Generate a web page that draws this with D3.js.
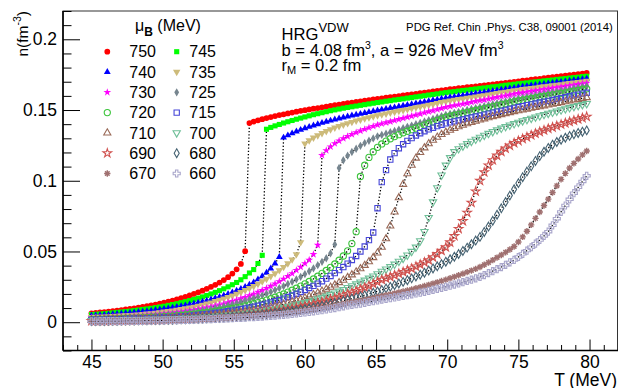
<!DOCTYPE html>
<html>
<head>
<meta charset="utf-8">
<script src="https://cdn.jsdelivr.net/npm/d3@7"></script>
<style>
  body { margin: 0; background: #fff; }
  svg { display: block; }
  text { font-family: "Liberation Sans", Arial, Helvetica, sans-serif; fill: #000; }
</style>
</head>
<body>
<svg id="chart" width="618" height="388"></svg>
<script>
// Temperature grid (MeV)
const temps = [
45,45.3,45.6,45.9,46.2,46.5,46.8,47.1,47.4,47.7,
48,48.3,48.6,48.9,49.2,49.5,49.8,50.1,50.4,50.7,
51,51.3,51.6,51.9,52.2,52.5,52.8,53.1,53.4,53.7,
54,54.3,54.6,54.9,55.2,55.5,55.8,56.1,56.4,56.7,
57,57.3,57.6,57.9,58.2,58.5,58.8,59.1,59.4,59.7,
60,60.3,60.6,60.9,61.2,61.5,61.8,62.1,62.4,62.7,
63,63.3,63.6,63.9,64.2,64.5,64.8,65.1,65.4,65.7,
66,66.3,66.6,66.9,67.2,67.5,67.8,68.1,68.4,68.7,
69,69.3,69.6,69.9,70.2,70.5,70.8,71.1,71.4,71.7,
72,72.3,72.6,72.9,73.2,73.5,73.8,74.1,74.4,74.7,
75,75.3,75.6,75.9,76.2,76.5,76.8,77.1,77.4,77.7,
78,78.3,78.6,78.9,79.2,79.5,79.8];

// Baryon density n (fm^-3) for each baryon chemical potential
const n750 = [
.0063,.0066,.0069,.0072,.0075,.0078,.0082,.0086,.0090,.0094,
.0098,.0103,.0108,.0113,.0119,.0125,.0131,.0138,.0145,.0153,
.0161,.0170,.0179,.0189,.0200,.0211,.0223,.0236,.0250,.0264,
.0280,.0298,.0318,.0344,.0374,.0412,.0502,.1408,.1418,.1427,
.1435,.1443,.1450,.1457,.1464,.1470,.1476,.1482,.1488,.1494,
.1499,.1504,.1509,.1514,.1519,.1524,.1529,.1534,.1539,.1543,
.1548,.1552,.1557,.1561,.1566,.1570,.1575,.1579,.1583,.1587,
.1591,.1595,.1599,.1603,.1607,.1611,.1615,.1619,.1623,.1627,
.1631,.1635,.1639,.1643,.1647,.1650,.1654,.1657,.1661,.1664,
.1668,.1671,.1675,.1678,.1682,.1685,.1689,.1692,.1696,.1699,
.1703,.1707,.1710,.1714,.1718,.1721,.1725,.1729,.1732,.1736,
.1740,.1743,.1747,.1751,.1754,.1758,.1762];

const n745 = [
.0054,.0056,.0058,.0060,.0063,.0066,.0069,.0072,.0075,.0078,
.0082,.0086,.0090,.0094,.0098,.0103,.0108,.0113,.0119,.0125,
.0131,.0138,.0145,.0153,.0161,.0170,.0179,.0189,.0200,.0211,
.0223,.0236,.0250,.0265,.0281,.0300,.0322,.0348,.0372,.0415,
.0473,.1364,.1377,.1388,.1398,.1408,.1417,.1426,.1435,.1443,
.1451,.1459,.1467,.1474,.1481,.1488,.1495,.1501,.1507,.1513,
.1518,.1523,.1528,.1533,.1538,.1543,.1548,.1553,.1557,.1562,
.1566,.1571,.1575,.1579,.1584,.1588,.1593,.1597,.1601,.1606,
.1610,.1614,.1619,.1623,.1627,.1630,.1634,.1638,.1641,.1645,
.1649,.1653,.1656,.1660,.1664,.1667,.1671,.1675,.1678,.1682,
.1686,.1689,.1692,.1696,.1699,.1702,.1706,.1709,.1712,.1716,
.1719,.1722,.1726,.1729,.1732,.1736,.1739];

const n740 = [
.0046,.0048,.0050,.0052,.0054,.0056,.0058,.0060,.0063,.0066,
.0069,.0072,.0075,.0078,.0082,.0086,.0090,.0094,.0098,.0103,
.0108,.0113,.0119,.0125,.0131,.0138,.0145,.0153,.0161,.0170,
.0179,.0189,.0200,.0211,.0223,.0236,.0250,.0265,.0282,.0303,
.0325,.0350,.0380,.0415,.0461,.1305,.1321,.1335,.1348,.1360,
.1371,.1381,.1391,.1400,.1409,.1417,.1425,.1433,.1440,.1447,
.1454,.1461,.1467,.1473,.1479,.1485,.1491,.1497,.1503,.1508,
.1514,.1519,.1525,.1530,.1536,.1541,.1547,.1552,.1558,.1563,
.1569,.1574,.1580,.1585,.1590,.1594,.1599,.1603,.1608,.1612,
.1617,.1621,.1626,.1630,.1635,.1639,.1644,.1648,.1653,.1657,
.1662,.1666,.1669,.1673,.1677,.1681,.1684,.1688,.1692,.1696,
.1699,.1703,.1707,.1711,.1714,.1718,.1722];

const n735 = [
.0036,.0037,.0038,.0039,.0040,.0042,.0044,.0046,.0048,.0050,
.0052,.0054,.0057,.0060,.0063,.0066,.0070,.0074,.0078,.0082,
.0087,.0092,.0097,.0103,.0109,.0116,.0123,.0131,.0139,.0148,
.0157,.0167,.0177,.0188,.0200,.0213,.0226,.0240,.0255,.0271,
.0288,.0306,.0325,.0345,.0367,.0390,.0415,.0443,.0480,.0565,
.1263,.1285,.1304,.1321,.1336,.1350,.1363,.1375,.1386,.1396,
.1406,.1415,.1424,.1432,.1440,.1448,.1455,.1462,.1468,.1474,
.1481,.1487,.1493,.1499,.1505,.1512,.1518,.1524,.1530,.1536,
.1542,.1549,.1555,.1561,.1566,.1571,.1576,.1580,.1585,.1590,
.1595,.1600,.1604,.1609,.1614,.1619,.1624,.1628,.1633,.1638,
.1643,.1647,.1651,.1655,.1659,.1663,.1667,.1670,.1674,.1678,
.1682,.1686,.1690,.1694,.1697,.1701,.1705];

const n730 = [
.0032,.0033,.0034,.0035,.0036,.0037,.0038,.0039,.0040,.0042,
.0044,.0046,.0048,.0050,.0052,.0054,.0057,.0060,.0063,.0066,
.0070,.0074,.0078,.0082,.0087,.0092,.0097,.0103,.0109,.0116,
.0123,.0131,.0139,.0148,.0157,.0167,.0177,.0188,.0200,.0213,
.0226,.0240,.0255,.0271,.0288,.0306,.0325,.0345,.0367,.0390,
.0415,.0440,.0480,.0545,.1180,.1214,.1241,.1263,.1282,.1299,
.1314,.1328,.1341,.1353,.1364,.1375,.1385,.1395,.1403,.1411,
.1418,.1426,.1434,.1442,.1450,.1457,.1465,.1473,.1481,.1489,
.1496,.1504,.1512,.1520,.1526,.1532,.1537,.1543,.1549,.1555,
.1561,.1567,.1572,.1578,.1584,.1590,.1596,.1601,.1607,.1613,
.1619,.1623,.1628,.1632,.1637,.1641,.1646,.1650,.1655,.1659,
.1664,.1668,.1673,.1677,.1682,.1686,.1691];

const n725 = [
.0027,.0028,.0029,.0030,.0031,.0032,.0033,.0034,.0035,.0036,
.0038,.0039,.0041,.0043,.0045,.0047,.0049,.0052,.0054,.0057,
.0060,.0063,.0066,.0070,.0074,.0078,.0083,.0088,.0093,.0099,
.0105,.0111,.0118,.0125,.0133,.0141,.0150,.0159,.0169,.0179,
.0190,.0202,.0214,.0227,.0241,.0255,.0270,.0286,.0303,.0321,
.0340,.0360,.0381,.0403,.0427,.0452,.0487,.0550,.1090,.1145,
.1177,.1203,.1226,.1247,.1266,.1283,.1299,.1314,.1324,.1333,
.1343,.1352,.1362,.1371,.1381,.1390,.1400,.1409,.1419,.1428,
.1438,.1447,.1457,.1466,.1473,.1480,.1486,.1493,.1500,.1507,
.1514,.1521,.1527,.1534,.1541,.1548,.1555,.1561,.1568,.1575,
.1582,.1587,.1593,.1598,.1603,.1609,.1614,.1620,.1625,.1630,
.1636,.1641,.1646,.1652,.1657,.1663,.1668];

const n720 = [
.0019,.0020,.0021,.0022,.0023,.0024,.0025,.0026,.0027,.0028,
.0029,.0031,.0032,.0033,.0035,.0036,.0038,.0040,.0041,.0043,
.0045,.0048,.0051,.0054,.0057,.0060,.0064,.0068,.0072,.0077,
.0081,.0086,.0092,.0097,.0103,.0109,.0116,.0123,.0131,.0139,
.0147,.0156,.0166,.0177,.0188,.0200,.0213,.0226,.0240,.0255,
.0271,.0288,.0306,.0325,.0345,.0366,.0388,.0412,.0438,.0468,
.0505,.0556,.0640,.1030,.1110,.1165,.1205,.1236,.1260,.1280,
.1297,.1312,.1326,.1339,.1350,.1361,.1372,.1383,.1394,.1405,
.1416,.1427,.1438,.1449,.1456,.1463,.1469,.1476,.1483,.1490,
.1497,.1503,.1510,.1517,.1524,.1531,.1538,.1544,.1551,.1558,
.1565,.1570,.1576,.1581,.1586,.1592,.1597,.1602,.1607,.1613,
.1618,.1623,.1629,.1634,.1639,.1645,.1650];

const n715 = [
.0016,.0017,.0017,.0018,.0019,.0020,.0021,.0022,.0023,.0024,
.0025,.0026,.0027,.0028,.0029,.0031,.0032,.0033,.0035,.0036,
.0038,.0040,.0043,.0045,.0048,.0051,.0054,.0057,.0061,.0065,
.0068,.0073,.0077,.0082,.0087,.0092,.0097,.0103,.0109,.0116,
.0123,.0131,.0139,.0148,.0157,.0167,.0178,.0189,.0201,.0214,
.0228,.0242,.0257,.0273,.0290,.0308,.0327,.0347,.0368,.0390,
.0414,.0440,.0468,.0500,.0535,.0580,.0634,.0806,.0990,.1075,
.1150,.1195,.1230,.1258,.1282,.1302,.1320,.1336,.1350,.1363,
.1375,.1386,.1396,.1406,.1413,.1420,.1426,.1433,.1440,.1447,
.1454,.1460,.1467,.1474,.1481,.1488,.1494,.1501,.1508,.1515,
.1521,.1527,.1534,.1540,.1546,.1553,.1559,.1565,.1571,.1578,
.1584,.1590,.1597,.1603,.1609,.1616,.1622];

const n710 = [
.0013,.0014,.0014,.0015,.0015,.0016,.0017,.0018,.0018,.0019,
.0020,.0021,.0022,.0023,.0024,.0025,.0026,.0027,.0028,.0030,
.0031,.0033,.0035,.0037,.0039,.0041,.0043,.0046,.0048,.0051,
.0054,.0057,.0060,.0064,.0067,.0071,.0075,.0080,.0084,.0089,
.0094,.0100,.0106,.0113,.0120,.0127,.0135,.0144,.0153,.0162,
.0172,.0183,.0195,.0207,.0220,.0233,.0248,.0263,.0280,.0297,
.0316,.0335,.0356,.0378,.0402,.0428,.0457,.0490,.0530,.0590,
.0680,.0780,.0880,.0975,.1050,.1110,.1160,.1200,.1233,.1262,
.1287,.1308,.1327,.1343,.1357,.1370,.1382,.1393,.1403,.1412,
.1421,.1430,.1438,.1446,.1454,.1461,.1468,.1475,.1482,.1489,
.1495,.1501,.1507,.1513,.1518,.1524,.1530,.1536,.1542,.1547,
.1553,.1559,.1565,.1571,.1576,.1582,.1588];

const n700 = [
.0011,.0011,.0012,.0013,.0013,.0014,.0014,.0015,.0016,.0016,
.0017,.0018,.0018,.0019,.0020,.0021,.0022,.0023,.0024,.0025,
.0026,.0027,.0029,.0031,.0032,.0034,.0036,.0038,.0040,.0043,
.0045,.0048,.0050,.0053,.0056,.0059,.0063,.0066,.0070,.0074,
.0078,.0083,.0087,.0093,.0098,.0104,.0110,.0116,.0123,.0131,
.0138,.0146,.0155,.0164,.0174,.0184,.0195,.0206,.0219,.0231,
.0245,.0257,.0270,.0283,.0297,.0311,.0326,.0342,.0359,.0375,
.0392,.0410,.0430,.0451,.0474,.0500,.0530,.0575,.0640,.0740,
.0850,.0950,.1040,.1110,.1163,.1205,.1226,.1245,.1262,.1278,
.1293,.1307,.1321,.1334,.1347,.1359,.1371,.1383,.1393,.1403,
.1413,.1423,.1432,.1441,.1450,.1459,.1468,.1476,.1484,.1492,
.1500,.1508,.1516,.1524,.1531,.1538,.1545];

const n690 = [
.0009,.0009,.0010,.0010,.0011,.0011,.0012,.0012,.0013,.0013,
.0014,.0015,.0015,.0016,.0017,.0018,.0018,.0019,.0020,.0021,
.0022,.0023,.0025,.0026,.0027,.0029,.0031,.0032,.0034,.0036,
.0038,.0040,.0043,.0045,.0047,.0050,.0053,.0056,.0059,.0063,
.0066,.0070,.0074,.0078,.0082,.0087,.0092,.0097,.0103,.0109,
.0115,.0121,.0128,.0136,.0143,.0152,.0160,.0169,.0179,.0189,
.0200,.0210,.0221,.0233,.0245,.0258,.0271,.0285,.0300,.0310,
.0321,.0332,.0343,.0355,.0367,.0380,.0394,.0408,.0423,.0438,
.0459,.0482,.0505,.0530,.0565,.0610,.0660,.0715,.0775,.0845,
.0925,.1000,.1060,.1108,.1146,.1178,.1205,.1228,.1249,.1267,
.1282,.1296,.1309,.1322,.1334,.1346,.1357,.1368,.1378,.1388,
.1398,.1408,.1417,.1426,.1435,.1444,.1453];

const n680 = [
.0008,.0008,.0009,.0009,.0010,.0010,.0010,.0011,.0011,.0012,
.0012,.0013,.0013,.0014,.0015,.0015,.0016,.0017,.0017,.0018,
.0019,.0020,.0021,.0022,.0024,.0025,.0026,.0028,.0029,.0031,
.0032,.0034,.0036,.0038,.0040,.0042,.0044,.0047,.0049,.0052,
.0055,.0058,.0061,.0065,.0068,.0072,.0076,.0080,.0084,.0089,
.0094,.0099,.0104,.0110,.0116,.0122,.0129,.0136,.0144,.0152,
.0160,.0167,.0175,.0183,.0191,.0200,.0209,.0218,.0228,.0239,
.0250,.0262,.0274,.0285,.0297,.0310,.0323,.0336,.0350,.0365,
.0380,.0395,.0411,.0428,.0445,.0463,.0482,.0504,.0527,.0551,
.0577,.0603,.0638,.0676,.0717,.0760,.0805,.0850,.0895,.0940,
.0983,.1025,.1065,.1102,.1140,.1174,.1205,.1232,.1255,.1274,
.1290,.1304,.1317,.1328,.1338,.1347,.1356];

const n670 = [
.0007,.0007,.0008,.0008,.0008,.0009,.0009,.0010,.0010,.0010,
.0011,.0011,.0012,.0012,.0013,.0014,.0014,.0015,.0016,.0016,
.0017,.0018,.0019,.0020,.0021,.0022,.0023,.0024,.0026,.0027,
.0028,.0030,.0031,.0033,.0035,.0036,.0038,.0040,.0042,.0045,
.0047,.0050,.0052,.0055,.0058,.0061,.0065,.0068,.0072,.0076,
.0080,.0085,.0089,.0094,.0099,.0105,.0111,.0117,.0123,.0130,
.0137,.0142,.0148,.0153,.0159,.0165,.0171,.0178,.0185,.0191,
.0197,.0204,.0211,.0218,.0225,.0232,.0240,.0248,.0256,.0264,
.0273,.0282,.0292,.0301,.0311,.0321,.0332,.0343,.0354,.0365,
.0377,.0390,.0406,.0422,.0439,.0457,.0475,.0494,.0514,.0535,
.0567,.0603,.0643,.0688,.0734,.0779,.0825,.0870,.0917,.0964,
.1010,.1052,.1090,.1123,.1154,.1183,.1210];

const n660 = [
.0006,.0006,.0007,.0007,.0007,.0008,.0008,.0008,.0009,.0009,
.0009,.0010,.0010,.0011,.0011,.0012,.0012,.0013,.0014,.0014,
.0015,.0016,.0017,.0017,.0018,.0019,.0020,.0021,.0022,.0023,
.0025,.0026,.0027,.0028,.0030,.0031,.0033,.0035,.0036,.0038,
.0040,.0042,.0045,.0047,.0050,.0052,.0055,.0058,.0062,.0065,
.0069,.0073,.0077,.0081,.0085,.0090,.0095,.0100,.0106,.0112,
.0118,.0123,.0127,.0132,.0137,.0143,.0148,.0154,.0160,.0165,
.0170,.0175,.0180,.0186,.0191,.0197,.0203,.0209,.0215,.0222,
.0229,.0236,.0243,.0250,.0258,.0266,.0274,.0283,.0292,.0301,
.0310,.0320,.0333,.0347,.0361,.0375,.0390,.0406,.0423,.0440,
.0461,.0483,.0506,.0530,.0555,.0581,.0610,.0640,.0685,.0732,
.0780,.0825,.0869,.0912,.0954,.0995,.1035];

const muLabels = ["750","745","740","735","730","725","720","715","710","700","690","680","670","660"];
const xTickValues = [45, 50, 55, 60, 65, 70, 75, 80];
const yTickValues = [0, 0.05, 0.1, 0.15, 0.2];

const seriesValues = [n750, n745, n740, n735, n730, n725, n720, n715, n710, n700, n690, n680, n670, n660];
seriesValues.forEach((s, i) => {
  if (s.length !== temps.length) throw new Error("series " + muLabels[i] + " has " + s.length + " points");
});

// Marker appearance for each series (ROOT-like marker styles)
const markerStyles = [
  { color: "#ff0000", shape: "circle",       filled: true },
  { color: "#00ff00", shape: "square",       filled: true },
  { color: "#0000ff", shape: "triangle",     filled: true },
  { color: "#cdbb7a", shape: "triangleDown", filled: true },
  { color: "#ff00ff", shape: "star",         filled: true },
  { color: "#76858f", shape: "diamond",      filled: true },
  { color: "#3cc43c", shape: "circle",       filled: false },
  { color: "#4646d8", shape: "square",       filled: false },
  { color: "#9a6a58", shape: "triangle",     filled: false },
  { color: "#6fbf98", shape: "triangleDown", filled: false },
  { color: "#d0524f", shape: "star",         filled: false },
  { color: "#456272", shape: "diamond",      filled: false },
  { color: "#a07070", shape: "asterisk",     filled: false },
  { color: "#a9a6cb", shape: "cross",        filled: false }
];

const asteriskSymbol = {
  draw(ctx, size) {
    const r = Math.sqrt(size) * 0.6;
    for (let a = 0; a < 4; a++) {
      const ang = a * Math.PI / 4;
      const dx = r * Math.cos(ang), dy = r * Math.sin(ang);
      ctx.moveTo(-dx, -dy);
      ctx.lineTo(dx, dy);
    }
  }
};

const symbolTypes = {
  circle: d3.symbolCircle,
  square: d3.symbolSquare,
  triangle: d3.symbolTriangle,
  triangleDown: d3.symbolTriangle,
  star: d3.symbolStar,
  diamond: d3.symbolDiamond,
  cross: d3.symbolCross,
  asterisk: asteriskSymbol
};
const symbolSizes = {
  filled: { circle: 26, square: 26, triangle: 20, triangleDown: 24, star: 19, diamond: 20 },
  open:   { circle: 30, square: 28, triangle: 22, triangleDown: 23, star: 23, diamond: 22, cross: 28, asterisk: 28 }
};

function markerPath(st) {
  const size = (st.filled ? symbolSizes.filled : symbolSizes.open)[st.shape];
  return d3.symbol().type(symbolTypes[st.shape]).size(size)();
}
function applyMarker(sel, st) {
  sel.attr("d", markerPath(st))
     .attr("fill", st.filled ? st.color : "none")
     .attr("stroke", st.filled ? "none" : st.color)
     .attr("stroke-width", st.filled ? 0 : (st.shape === "asterisk" ? 1.4 : 1.1));
}
const rot = st => st.shape === "triangleDown" ? " rotate(180)" : "";

const svg = d3.select("#chart");
const frameL = 63, frameR = 618, frameT = 11, frameB = 350.5;
const x = d3.scaleLinear().domain([43, 82]).range([frameL, frameR]);
const y = d3.scaleLinear().domain([-0.02, 0.22]).range([frameB, frameT]);

// frame
svg.append("rect")
  .attr("x", frameL).attr("y", frameT)
  .attr("width", frameR - frameL - 0.5).attr("height", frameB - frameT)
  .attr("fill", "none").attr("stroke", "#333").attr("stroke-width", 1);

// curves: dotted connecting line under each series' markers
const plot = svg.append("g");
const lineGen = d3.line().x(d => x(d.t)).y(d => y(d.n));
seriesValues.forEach((vals, i) => {
  const st = markerStyles[i];
  const pts = temps.map((t, k) => ({ t: t, n: vals[k] }));
  const g = plot.append("g");
  g.append("path")
    .attr("d", lineGen(pts))
    .attr("fill", "none")
    .attr("stroke", "#000")
    .attr("stroke-width", 1.3)
    .attr("stroke-dasharray", "1.3,2");
  g.selectAll("path.m").data(pts).join("path")
    .attr("class", "m")
    .attr("transform", d => `translate(${x(d.t)},${y(d.n)})${rot(st)}`)
    .call(applyMarker, st);
});

// axes (ticks point into the frame)
const fontSize = 17.5;
const xMinor = d3.range(43, 83).filter(v => v % 5 !== 0);
const yMinor = d3.range(-2, 23).filter(v => v % 5 !== 0).map(v => v / 100);

const xAxisG = svg.append("g").attr("transform", `translate(0,${frameB})`);
xAxisG.call(d3.axisBottom(x).tickValues(xMinor).tickSize(-5.5).tickFormat(""));
xAxisG.append("g").call(d3.axisBottom(x).tickValues(xTickValues).tickSize(-11).tickPadding(5).tickFormat(d3.format("d")));
xAxisG.selectAll(".domain").remove();
xAxisG.selectAll("text").attr("font-size", fontSize).attr("font-family", null).style("fill", "#000");
xAxisG.selectAll("line").attr("stroke", "#000");

const yAxisG = svg.append("g").attr("transform", `translate(${frameL},0)`);
yAxisG.call(d3.axisLeft(y).tickValues(yMinor).tickSize(-8.5).tickFormat(""));
yAxisG.append("g").call(d3.axisLeft(y).tickValues(yTickValues).tickSize(-17).tickPadding(6).tickFormat(d => String(d)));
yAxisG.selectAll(".domain").remove();
yAxisG.selectAll("text").attr("font-size", fontSize).attr("font-family", null).style("fill", "#000");
yAxisG.selectAll("line").attr("stroke", "#000");

svg.append("line").attr("x1", frameL).attr("x2", frameR).attr("y1", frameB).attr("y2", frameB)
  .attr("stroke", "#000").attr("stroke-width", 1.5);
svg.append("line").attr("x1", frameL).attr("x2", frameL).attr("y1", frameT).attr("y2", frameB)
  .attr("stroke", "#000").attr("stroke-width", 1.6);

// axis titles
svg.append("text").attr("x", 617).attr("y", 385.5).attr("text-anchor", "end")
  .attr("font-size", fontSize).text("T (MeV)");
const yt = svg.append("text").attr("transform", "translate(27.5,11) rotate(-90)")
  .attr("text-anchor", "end").attr("font-size", 15.5);
yt.append("tspan").text("n(fm");
yt.append("tspan").attr("font-size", 10.5).attr("dy", -6.5).text("-3");
yt.append("tspan").attr("dy", 6.5).text(")");

// legend
const lt = svg.append("text").attr("x", 135).attr("y", 31).attr("font-size", 16);
lt.append("tspan").text("\u03bc");
lt.append("tspan").attr("font-size", 12).attr("font-weight", "bold").attr("dy", 5).text("B");
lt.append("tspan").attr("dy", -5).text(" (MeV)");

const legend = svg.append("g");
muLabels.forEach((lab, i) => {
  const col = i % 2, row = Math.floor(i / 2);
  const ly = 51.7 + row * 20.3;
  const mx = col === 0 ? 107.3 : 176.7;
  const tx = col === 0 ? 129.3 : 189.3;
  const st = markerStyles[i];
  legend.append("path")
    .attr("transform", `translate(${mx},${ly})${rot(st)}`)
    .call(applyMarker, st);
  legend.append("text").attr("x", tx).attr("y", ly).attr("dy", "0.36em")
    .attr("font-size", 16).text(lab);
});

// model annotation: three lines in one text block
const note = svg.append("text").attr("font-size", 16.6);
note.append("tspan").attr("x", 281.5).attr("y", 39.5).text("HRG");
note.append("tspan").attr("font-size", 13).attr("dy", -8).text("VDW");
note.append("tspan").attr("x", 281.5).attr("y", 55.5).text("b = 4.08 fm");
note.append("tspan").attr("font-size", 10.5).attr("dy", -7).text("3");
note.append("tspan").attr("dy", 7).text(", a = 926 MeV fm");
note.append("tspan").attr("font-size", 10.5).attr("dy", -7).text("3");
note.append("tspan").attr("x", 281.5).attr("y", 70.5).text("r");
note.append("tspan").attr("font-size", 11).attr("dy", 3.5).text("M");
note.append("tspan").attr("dy", -3.5).text(" = 0.2 fm");

svg.append("text").attr("x", 612.7).attr("y", 30.5).attr("text-anchor", "end")
  .attr("font-size", 11.3).text("PDG Ref. Chin .Phys. C38, 09001 (2014)");
</script>
</body>
</html>
